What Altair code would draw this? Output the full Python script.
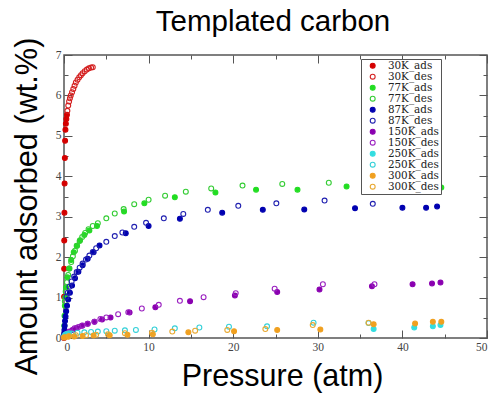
import altair as alt
import pandas as pd

# ---- data ----
title_text = ["Templated carbon"]
series_names = ["30K_ads", "30K_des", "77K_ads", "77K_des", "87K_ads", "87K_des",
                "150K_ads", "150K_des", "250K_ads", "250K_des", "300K_ads", "300K_des"]
stroke_colors = ["#d40000", "#d42020", "#22dd22", "#33cc33", "#0000b0", "#2020b0",
                 "#8a00b0", "#9a20c0", "#33dde0", "#33d0d8", "#f0a020", "#e8a830"]
fill_colors = ["#d40000", "transparent", "#22dd22", "transparent", "#0000b0", "transparent",
               "#8a00b0", "transparent", "#33dde0", "transparent", "#f0a020", "transparent"]

x_30_ads = [0.0, 0.01, 0.02, 0.03, 0.05, 0.07, 0.1, 0.13, 0.17, 0.22, 0.28, 0.35]
y_30_ads = [0.0, 1.02, 1.71, 2.41, 3.1, 3.82, 4.45, 4.88, 5.15, 5.3, 5.42, 5.52]
x_30_des = [0.4, 0.5, 0.6, 0.7, 0.8, 0.95, 1.1, 1.25, 1.4, 1.6, 1.8, 2.0, 2.2, 2.45, 2.7, 2.95, 3.2, 3.4]
y_30_des = [5.62, 5.75, 5.85, 5.93, 6.0, 6.08, 6.16, 6.24, 6.32, 6.39, 6.45, 6.5, 6.55, 6.6, 6.64, 6.67, 6.69, 6.7]

x_77_ads = [0.0, 0.03, 0.06, 0.1, 0.15, 0.25, 0.4, 0.6, 0.85, 1.15, 1.5, 1.9, 2.4, 3.0, 3.9,
            7.1, 9.5, 13.1, 17.9, 22.7, 27.6, 33.4, 39.1, 42.3, 43.8, 44.6]
y_77_ads = [0.05, 0.3, 0.55, 0.8, 1.0, 1.25, 1.5, 1.72, 1.93, 2.12, 2.28, 2.42, 2.55, 2.66, 2.77,
            3.13, 3.33, 3.48, 3.6, 3.67, 3.67, 3.75, 3.68, 3.68, 3.72, 3.72]
x_77_des = [0.1, 0.2, 0.35, 0.5, 0.65, 0.85, 1.05, 1.3, 1.55, 1.85, 2.15, 2.5, 2.9, 3.4, 4.0,
            5.0, 6.0, 7.05, 8.3, 10.0, 11.95, 14.4, 17.4, 21.1, 25.8, 31.3, 37.1]
y_77_des = [0.9, 1.15, 1.38, 1.56, 1.72, 1.88, 2.02, 2.16, 2.28, 2.4, 2.5, 2.6, 2.69, 2.77, 2.84,
            2.96, 3.08, 3.19, 3.31, 3.42, 3.52, 3.62, 3.7, 3.77, 3.81, 3.84, 3.85]

x_87_ads = [0.0, 0.02, 0.05, 0.08, 0.12, 0.18, 0.26, 0.36, 0.5, 0.7, 0.95, 1.3, 1.7, 2.2, 2.8, 3.5,
            4.2, 7.3, 10.0, 13.7, 18.7, 23.5, 28.4, 34.4, 40.0, 42.8, 44.1]
y_87_ads = [0.05, 0.12, 0.2, 0.3, 0.42, 0.53, 0.66, 0.8, 0.95, 1.12, 1.3, 1.48, 1.64, 1.8, 1.96, 2.12,
            2.29, 2.59, 2.77, 2.95, 3.1, 3.17, 3.18, 3.21, 3.22, 3.22, 3.25]
x_87_des = [0.3, 0.45, 0.65, 0.9, 1.2, 1.5, 1.85, 2.2, 2.6, 3.0, 3.4, 3.8, 5.0, 6.0, 6.9, 8.3,
            9.7, 11.8, 14.1, 17.0, 20.6, 25.1, 30.8, 36.5]
y_87_des = [1.02, 1.12, 1.27, 1.4, 1.52, 1.63, 1.74, 1.84, 1.94, 2.04, 2.13, 2.22, 2.38, 2.52, 2.61, 2.75,
            2.85, 2.96, 3.07, 3.17, 3.27, 3.33, 3.4, 3.32]

x_150_ads = [0.0, 0.1, 0.3, 0.6, 1.0, 1.5, 2.1, 2.8, 3.6, 4.5, 5.5, 7.75, 10.8, 14.9, 20.2, 25.2,
             30.2, 36.4, 41.2, 43.5, 44.5]
y_150_ads = [0.02, 0.05, 0.1, 0.15, 0.2, 0.25, 0.3, 0.35, 0.4, 0.46, 0.51, 0.63, 0.76, 0.91, 1.05, 1.14,
             1.2, 1.28, 1.33, 1.35, 1.37]
x_150_des = [0.65, 1.25, 1.7, 2.2, 2.8, 3.6, 4.3, 5.0, 6.4, 7.6, 9.2, 11.2, 13.7, 16.5, 20.3, 24.9, 30.6, 36.7]
y_150_des = [0.16, 0.24, 0.27, 0.31, 0.35, 0.4, 0.47, 0.51, 0.59, 0.64, 0.73, 0.82, 0.92, 1.01, 1.11, 1.22, 1.33, 1.33]

x_250_ads = [0.0, 0.05, 0.15, 0.3, 0.6, 36.6, 41.4, 43.6, 44.5]
y_250_ads = [0.02, 0.05, 0.08, 0.1, 0.12, 0.22, 0.26, 0.29, 0.32]
x_250_des = [0.4, 0.9, 1.6, 2.4, 3.2, 4.0, 5.0, 6.0, 7.2, 8.5, 10.7, 13.1, 16.0, 19.5, 24.0, 29.5, 36.0]
y_250_des = [0.1, 0.11, 0.13, 0.14, 0.15, 0.16, 0.17, 0.18, 0.19, 0.2, 0.21, 0.24, 0.26, 0.28, 0.29, 0.38, 0.37]

x_300_ads = [0.0, 0.1, 0.5, 1.2, 2.2, 3.5, 5.4, 7.5, 10.5, 14.7, 20.1, 25.2, 30.3, 36.6, 41.5, 43.6, 44.6]
y_300_ads = [0.01, 0.02, 0.03, 0.04, 0.05, 0.06, 0.07, 0.08, 0.09, 0.14, 0.17, 0.2, 0.21, 0.34, 0.36, 0.4, 0.4]
x_300_des = [0.6, 1.4, 2.6, 3.8, 5.2, 7.2, 10.4, 12.8, 15.5, 19.3, 23.8, 29.4, 36.0]
y_300_des = [0.05, 0.07, 0.07, 0.08, 0.09, 0.12, 0.13, 0.16, 0.18, 0.2, 0.22, 0.32, 0.38]

x_major = [0, 10, 20, 30, 40, 50]
x_minor = [5, 15, 25, 35, 45]
y_major = [0, 1, 2, 3, 4, 5, 6, 7]
y_minor = [0.5, 1.5, 2.5, 3.5, 4.5, 5.5, 6.5]

pairs = [(x_30_ads, y_30_ads), (x_30_des, y_30_des), (x_77_ads, y_77_ads), (x_77_des, y_77_des),
         (x_87_ads, y_87_ads), (x_87_des, y_87_des), (x_150_ads, y_150_ads), (x_150_des, y_150_des),
         (x_250_ads, y_250_ads), (x_250_des, y_250_des), (x_300_ads, y_300_ads), (x_300_des, y_300_des)]

rows = []
for i, (name, (xs, ys)) in enumerate(zip(series_names, pairs)):
    for xv, yv in zip(xs, ys):
        rows.append({"series": name, "order": i, "P": xv, "W": yv})
df = pd.DataFrame(rows)

xscale = alt.Scale(domain=[0, 50], nice=False, zero=False)
yscale = alt.Scale(domain=[0, 7], nice=False, zero=False)

lab_font = "Liberation Serif"
tick_col = "#555555"

def ax(orient, values, size, labels, title=None, title_size=30, **kw):
    args = dict(orient=orient, values=values, tickSize=size, offset=-size, domain=False,
                grid=False, labels=labels, tickColor=tick_col, tickWidth=1)
    if labels:
        args.update(labelFont=lab_font, labelFontSize=11.5, labelColor="#444444", labelPadding=3)
    if title is not None:
        args.update(title=title, titleFont="Liberation Sans", titleFontSize=title_size,
                    titleFontWeight="normal", titleColor="#000000")
    else:
        args.update(title=None)
    args.update(kw)
    return alt.Axis(**args)

base = alt.Chart(df)

points = base.mark_point(shape="circle", filled=True, size=24, strokeWidth=1.1, opacity=1).encode(
    x=alt.X("P:Q", scale=xscale,
            axis=ax("bottom", x_major, 8, True, "Pressure (atm)", title_size=30.5,
                    titlePadding=9, titleX=218)),
    y=alt.Y("W:Q", scale=yscale,
            axis=ax("left", y_major, 8, True, "Amount adsorbed (wt.%)", title_size=30.7,
                    titlePadding=13, titleY=151)),
    stroke=alt.Stroke("series:N", scale=alt.Scale(domain=series_names, range=stroke_colors),
                      legend=alt.Legend(title=None)),
    fill=alt.Fill("series:N", scale=alt.Scale(domain=series_names, range=fill_colors),
                  legend=alt.Legend(title=None)),
    order=alt.Order("order:Q"),
)

def ghost(xaxis, yaxis):
    return base.mark_point(opacity=0).encode(
        x=alt.X("P:Q", scale=xscale, axis=xaxis),
        y=alt.Y("W:Q", scale=yscale, axis=yaxis),
    )

layer_b = ghost(ax("top", x_major, 8, False), ax("right", y_major, 8, False))
layer_c = ghost(ax("bottom", x_minor, 4, False), ax("left", y_minor, 4, False))
layer_d = ghost(ax("top", x_minor, 4, False), ax("right", y_minor, 4, False))

title_layer = alt.Chart(pd.DataFrame({"t": title_text})).mark_text(
    font="Liberation Sans", fontSize=29.5, color="#000000", align="center", baseline="alphabetic"
).encode(text="t:N", x=alt.value(209), y=alt.value(-24))

chart = alt.layer(points, layer_b, layer_c, layer_d, title_layer).resolve_axis(
    x="independent", y="independent"
).properties(
    width=423,
    height=283,
    padding={"left": 64, "top": 55, "right": 2, "bottom": 60},
    autosize=alt.AutoSizeParams(type="none"),
).configure_view(
    stroke="#555555", strokeWidth=1.5
).configure_legend(
    orient="none", legendX=297, legendY=4,
    strokeColor="#555555", fillColor="#ffffff", padding=1.5,
    labelFont="DejaVu Serif", labelFontSize=10.4, labelColor="#222222",
    symbolSize=24, symbolStrokeWidth=1.1, symbolOffset=5, labelOffset=10,
    rowPadding=0, clipHeight=10.4, labelLimit=200,
)

chart.save("out.html", embed_options={"renderer": "svg", "actions": False})
